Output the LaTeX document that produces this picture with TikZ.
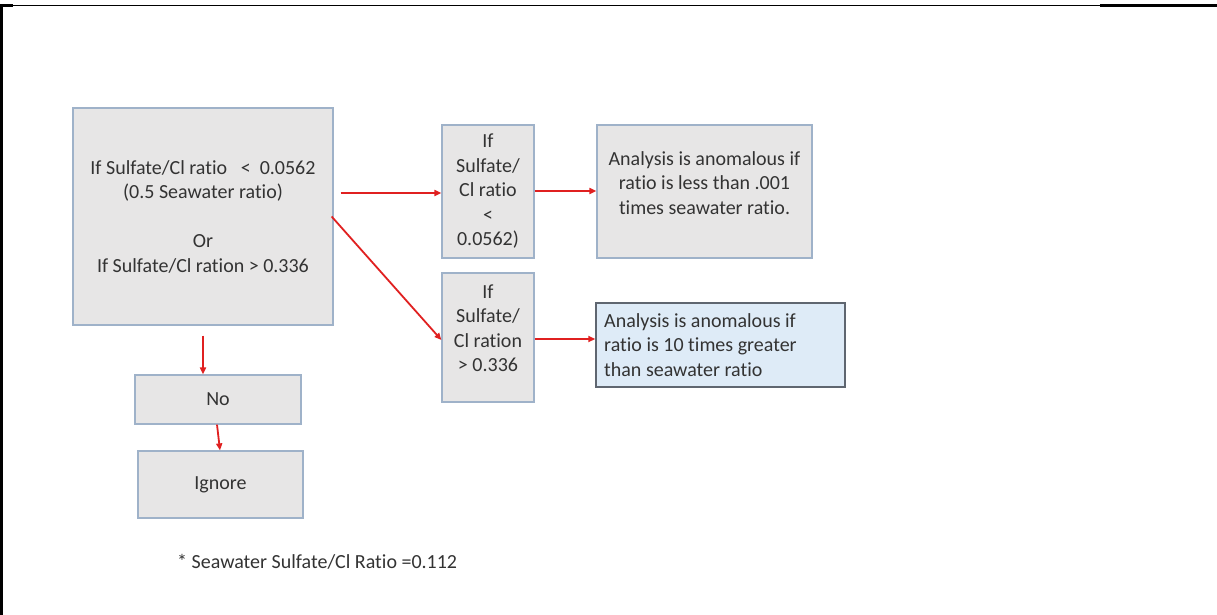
\documentclass[tikz,border=0pt]{standalone}
\usepackage{fontspec}
\setmainfont{Carlito}[Ligatures={NoCommon}]
\usetikzlibrary{arrows.meta}
\definecolor{boxfill}{HTML}{E7E6E6}
\definecolor{boxline}{HTML}{9FB2C9}
\definecolor{bluefill}{HTML}{DEEBF7}
\definecolor{blueline}{HTML}{5F6670}
\definecolor{arrowred}{HTML}{E02020}
\definecolor{txt}{HTML}{333333}
\tikzset{
  box/.style={draw=boxline, fill=boxfill, line width=1.2pt, inner sep=0pt},
  bluebox/.style={draw=blueline, fill=bluefill, line width=1.4pt, inner sep=0pt},
  label text/.style={text=txt, font=\fontsize{20pt}{24.5pt}\selectfont, align=center, inner sep=0pt},
  flow/.style={draw=arrowred, line width=1.8pt, -{Triangle[length=7pt,width=6pt]}},
}
\begin{document}
\begin{tikzpicture}[x=1pt, y=-1pt]
\useasboundingbox (0,0) rectangle (1217,615);
% page frame
\draw[line width=1.5pt] (0,5.5) -- (1217,5.5);
\draw[line width=3pt] (1100,5.5) -- (1217,5.5);
\draw[line width=3pt] (0,6) -- (13,6);
\draw[line width=2.5pt] (1.5,5) -- (1.5,615);

% boxes
\node[box, minimum width=260pt, minimum height=217pt] (start) at (203,216.5) {};
\node[label text] (starttxt) at (203,216.5)
  {If Sulfate/Cl ratio\ \ \ <\ \ 0.0562\\ (0.5 Seawater ratio)\\[24.5pt] Or\\ If Sulfate/Cl ration > 0.336};

\node[box, minimum width=92pt, minimum height=133pt] (low) at (488,191.5) {};
\node[label text] (lowtxt) at (488,191.5) {If\\ Sulfate/\\ Cl ratio\\ <\\ 0.0562)};

\node[box, minimum width=215pt, minimum height=133pt] (lowres) at (704.5,191.5) {};
\node[label text] (lowrestxt) at (704.5,183) {Analysis is anomalous if\\ ratio is less than .001\\ times seawater ratio.};

\node[box, minimum width=92pt, minimum height=129pt] (high) at (488,337.5) {};
\node[label text] (hightxt) at (488,328) {If\\ Sulfate/\\ Cl ration\\ > 0.336};

\node[bluebox, minimum width=249pt, minimum height=84pt] (highres) at (720.5,345) {};
\node[label text, align=left, anchor=west] (highrestxt) at (604,345) {Analysis is anomalous if\\ ratio is 10 times greater\\ than seawater ratio};

\node[box, minimum width=166pt, minimum height=49pt] (no) at (218,399.5) {};
\node[label text] (notxt) at (218,399.5) {No};

\node[box, minimum width=165pt, minimum height=67pt] (ignore) at (220.5,484.5) {};
\node[label text] (ignoretxt) at (220.5,484.5) {Ignore};

\node[label text, anchor=west] (note) at (177,562) {* Seawater Sulfate/Cl Ratio =0.112};

% connectors
\draw[flow] ([xshift=7pt,yshift=23.5pt]start.east) -- ([yshift=-1.5pt]low.west);
\draw[flow] ([yshift=0.5pt]low.east) -- ([yshift=0.5pt]lowres.west);
\draw[flow] ([xshift=-2pt]start.east) -- ([yshift=-2.5pt]high.west);
\draw[flow] ([yshift=-1.5pt]high.east) -- ([yshift=6pt]highres.west);
\draw[flow] ([yshift=-10pt]start.south) -- ([xshift=-15pt]no.north);
\draw[flow] ([xshift=-1pt]no.south) -- ([xshift=-0.5pt]ignore.north);
\end{tikzpicture}
\end{document}
